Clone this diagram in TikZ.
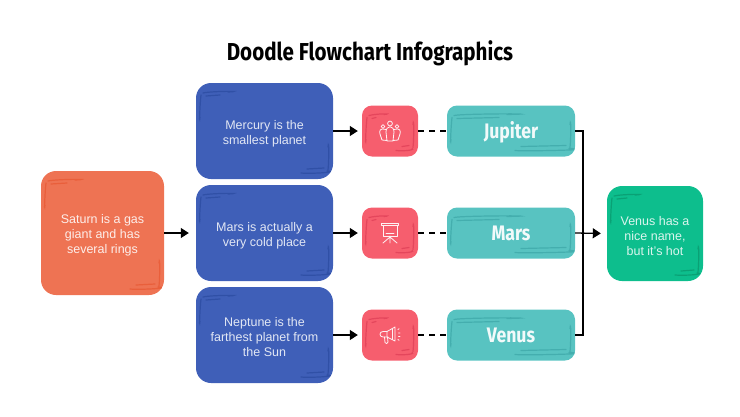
\documentclass[tikz,border=0pt]{standalone}
\usepackage{fontspec}
\setmainfont{Liberation Sans}
\newfontfamily\headfont[FakeStretch=0.84]{Fira Sans}
\usepackage{tikz}
\usetikzlibrary{arrows.meta}
\definecolor{orangefill}{HTML}{EE7353}
\definecolor{orangeline}{HTML}{E95F3B}
\definecolor{bluefill}{HTML}{3F5FB8}
\definecolor{blueline}{HTML}{3050A6}
\definecolor{redfill}{HTML}{F65E6E}
\definecolor{redline}{HTML}{E4465C}
\definecolor{tealfill}{HTML}{58C3C1}
\definecolor{tealline}{HTML}{44AEAE}
\definecolor{greenfill}{HTML}{0DBE8D}
\definecolor{greenline}{HTML}{0AA175}
\newcommand{\topgap}{\rule{0pt}{14pt}}
\tikzset{
doodle/.style n args={3}{fill=#1,rounded corners=15pt,inner sep=0pt,align=center,
path picture={
\draw[#2,line width=1.2pt,line cap=round,rounded corners=0pt]
([shift={(7,10)}]path picture bounding box.north west) .. controls +(8,-2) and +(#3-12,-1) .. ([shift={(#3,9)}]path picture bounding box.north west)
([shift={(10,13)}]path picture bounding box.north west) -- ([shift={(#3-8,12)}]path picture bounding box.north west)
([shift={(5,12)}]path picture bounding box.north west) .. controls +(-1,8) and +(-1,10) .. ([shift={(4,34)}]path picture bounding box.north west)
([shift={(-#3,-6)}]path picture bounding box.south east) .. controls +(10,1) and +(#3-18,1) .. ([shift={(-6,-8)}]path picture bounding box.south east)
([shift={(-#3+6,-10)}]path picture bounding box.south east) -- ([shift={(-9,-11)}]path picture bounding box.south east)
([shift={(-5,-9)}]path picture bounding box.south east) .. controls +(1,-8) and +(1,-10) .. ([shift={(-5,-32)}]path picture bounding box.south east);
}},
saturn box/.style={doodle={orangefill}{orangeline}{34},minimum width=123pt,minimum height=124pt,font=\fontsize{12.5}{15}\selectfont,text=white!88!orangefill},
planet box/.style={doodle={bluefill}{blueline}{32},minimum width=137pt,minimum height=96pt,font=\fontsize{12.5}{15}\selectfont,text=white!85!bluefill},
icon box/.style={doodle={redfill}{redline}{22},minimum width=56pt,minimum height=51pt,rounded corners=10pt},
name box/.style={doodle={tealfill}{tealline}{60},minimum width=128pt,minimum height=51pt,rounded corners=10pt,text=white!92!tealfill,text height=14pt,text depth=0pt,font=\headfont\fontsize{21}{24}\selectfont\bfseries},
result box/.style={doodle={greenfill}{greenline}{28},minimum width=96pt,minimum height=95pt,font=\fontsize{12.5}{15}\selectfont,text=white!85!greenfill},
link/.style={black,line width=1.3pt},
icon line/.style={white!92!redfill,line width=.8pt,line join=round,line cap=round}
}
\begin{document}
\begin{tikzpicture}[x=1pt,y=-1pt,>={Triangle[length=8pt,width=10pt]}]
\useasboundingbox (0,0) rectangle (740,416);
\node (title) at (370,53) {\headfont\fontsize{24.5}{28}\selectfont\bfseries Doodle Flowchart Infographics};
% left column
\node[saturn box] (saturn) at (102.5,233) {\topgap Saturn is a gas\\giant and has\\several rings};
\node[planet box] (mercury) at (264.5,131) {\topgap Mercury is the\\smallest planet};
\node[planet box,node distance=102pt] (mars) [below of=mercury] {\topgap Mars is actually a\\very cold place};
\node[planet box,node distance=102pt] (neptune) [below of=mars] {\topgap Neptune is the\\farthest planet from\\the Sun};
% icons
\node[icon box,node distance=125.5pt] (people) [right of=mercury] {};
\node[icon box,node distance=125.5pt] (screen) [right of=mars] {};
\node[icon box,node distance=125.5pt] (horn) [right of=neptune] {};
% names
\node[name box,node distance=121pt] (jupiter) [right of=people] {Jupiter};
\node[name box,node distance=121pt] (marsname) [right of=screen] {Mars};
\node[name box,node distance=121pt] (venus) [right of=horn] {Venus};
\node[result box] (result) at (655,233.5) {\topgap Venus has a\\nice name,\\but it’s hot};
\coordinate (bus) at (583,233);
% connectors
\draw[link,->,shorten >=7pt] (saturn.east |- mars) -- (mars);
\draw[link,->,shorten >=4pt] (mercury) -- (people);
\draw[link,->,shorten >=4pt] (mars) -- (screen);
\draw[link,->,shorten >=4pt] (neptune) -- (horn);
\draw[link,dash pattern=on 6pt off 5pt] (people) -- (jupiter);
\draw[link,dash pattern=on 6pt off 5pt] (screen) -- (marsname);
\draw[link,dash pattern=on 6pt off 5pt] (horn) -- (venus);
\draw[link] (jupiter.east) -| (bus);
\draw[link] (venus.east) -| (bus);
\draw[link,->,shorten >=6pt] (marsname.east) -- (result.west);
% icon drawings
\begin{scope}[shift={(people.center)},icon line]
\draw (0,-7.5) circle (2.4);
\draw (-7,-4.5) circle (1.9);
\draw (7,-4.5) circle (1.9);
\draw (-3,10) -- (-4,1) .. controls (-4,-6) and (4,-6) .. (4,1) -- (3,10) -- cycle;
\draw (-4,-1.5) .. controls (-10,-3.5) and (-11,0) .. (-10,3) -- (-8,9) -- (-3,9.5);
\draw (4,-1.5) .. controls (10,-3.5) and (11,0) .. (10,3) -- (8,9) -- (3,9.5);
\end{scope}
\begin{scope}[shift={(screen.center)},icon line]
\draw (-8.5,-10) rectangle (8.5,-8);
\draw (-7,-8) rectangle (7,3);
\draw (-4,0) -- (4,0);
\draw (0,3) -- (0,10) (0,4) -- (-7,10) (0,4) -- (7,10);
\end{scope}
\begin{scope}[shift={(horn.center)},icon line]
\draw (-3,-3.5) -- (5,-8) -- (5,6) -- (-3,2) -- cycle;
\draw (-3,-3.5) -- (-7,-3.5) .. controls (-11,-3.5) and (-11,2) .. (-7,2) -- (-2,2);
\draw (-5.5,2) -- (-5,7.5) .. controls (-4.5,9) and (-2,9) .. (-2,7) -- (-2.5,2.2);
\draw (2,-6) -- (2,4.5);
\draw (8,-5.5) -- (9,-6.3) (8.5,-2) -- (10,-2) (8.5,1.5) -- (10,1.5) (8,4.5) -- (9,5.3);
\end{scope}
\end{tikzpicture}
\end{document}
